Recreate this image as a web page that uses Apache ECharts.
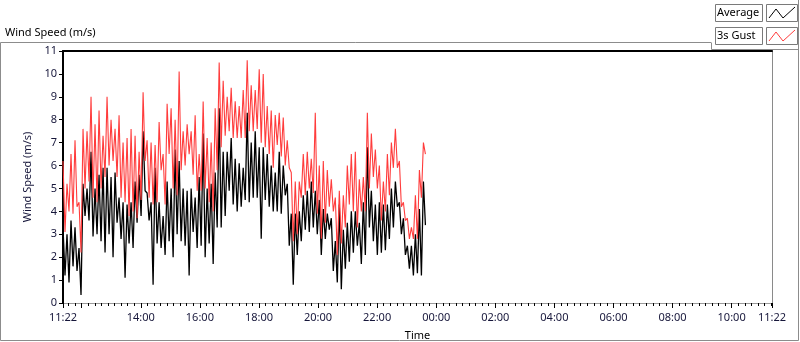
<!DOCTYPE html>
<html>
<head>
<meta charset="utf-8">
<script src="https://cdn.jsdelivr.net/npm/echarts@6/dist/echarts.min.js"></script>
<style>
  html, body { margin: 0; padding: 0; background: #fff; }
  #main { width: 800px; height: 342px; }
</style>
</head>
<body>
<div id="main"></div>
<script>
// samples start at 11:22 (minutes of day), one every 244 s
var startMinute = 682
var stepSeconds = 244

// 3s gust (m/s)
var gustSpeed = [
  6.2,3.1, 5.2,4.0, 6.5,3.9, 7.1,4.2, 4.4,2.2, 7.6,5.0, 7.5,5.3, 9.0,4.6, 7.8,4.4, 8.4,5.0,
  7.3,5.5, 9.0,6.0, 8.0,6.2, 7.6,5.5, 8.2,4.6, 7.0,4.4, 7.2,3.8, 7.6,4.0, 7.3,3.7, 6.6,4.5,
  9.2,6.2, 7.1,4.6, 7.0,4.3, 6.9,4.4, 7.9,5.8, 6.5,4.3, 8.7,6.5, 8.5,5.0, 8.0,4.7, 10.1,5.8,
  7.5,6.0, 7.8,6.5, 7.5,5.6, 8.2,4.9, 6.5,4.9, 8.8,5.0, 7.2,4.4, 7.0,4.0, 8.5,5.8, 10.5,6.8,
  9.7,7.3, 9.0,7.5, 9.4,7.2, 8.8,7.2, 8.6,7.2, 9.3,7.2, 10.6,7.5, 9.5,7.5, 9.3,7.6, 10.2,7.0,
  10.0,6.8, 8.6,6.5, 8.4,5.9, 8.2,6.9, 8.3,6.4, 8.1,6.0, 7.1,5.9, 5.7,2.7, 5.3,3.0, 5.3,4.6,
  6.5,4.7, 6.6,5.0, 6.3,4.8, 8.3,3.9, 6.0,2.8, 6.2,3.5, 5.8,4.2, 5.4,4.0, 4.6,2.1, 4.9,2.6,
  4.7,3.3, 6.0,4.3, 6.5,4.0, 6.6,3.3, 5.4,4.0, 5.5,4.0, 8.3,5.0, 7.4,5.5, 6.7,5.0, 6.0,3.6,
  5.3,4.0, 6.5,4.7, 7.0,5.9, 7.6,5.9, 6.2,4.2, 4.4,3.6, 3.7,2.8, 3.3,2.8, 4.7,2.8, 5.8,4.6,
  7.0,6.5
]

// average (m/s)
var avgSpeed = [
  3.3,1.2, 3.0,0.9, 3.6,1.6, 3.3,1.4, 2.4,0.35, 5.2,3.8, 5.0,3.6, 6.6,2.9, 5.0,3.0, 5.6,2.7,
  5.9,2.2, 5.9,3.0, 5.5,2.0, 5.7,3.5, 4.6,2.8, 4.4,1.1, 4.3,2.6, 4.4,2.4, 5.3,3.5, 5.6,3.8,
  7.5,4.9, 4.8,3.6, 4.4,0.8, 5.9,2.6, 4.4,2.4, 3.8,2.1, 5.3,2.7, 5.0,2.0, 6.7,3.0, 6.2,2.7,
  5.0,2.5, 4.9,1.2, 5.0,3.1, 4.6,2.4, 5.5,2.5, 7.4,2.0, 5.0,2.6, 5.2,1.7, 5.7,3.3, 8.5,3.3,
  6.6,3.8, 6.6,4.9, 7.2,4.3, 6.3,4.0, 6.1,4.2, 5.9,4.5, 8.3,4.4, 7.0,4.6, 7.5,4.6, 6.8,2.8,
  6.8,4.5, 6.5,4.2, 6.0,4.0, 5.7,4.0, 6.6,3.9, 6.0,4.7, 5.2,2.5, 3.9,0.8, 3.9,2.1, 4.0,2.7,
  4.7,3.2, 4.9,3.1, 5.3,3.3, 4.9,3.0, 4.5,2.1, 4.1,2.8, 3.9,3.2, 3.7,1.4, 2.7,0.9, 4.3,0.6,
  3.2,1.5, 3.5,1.8, 4.0,2.2, 4.0,2.5, 3.5,1.7, 4.4,2.1, 6.8,3.3, 4.9,2.7, 4.3,2.1, 4.4,2.2,
  4.3,2.3, 4.3,2.8, 5.0,3.3, 5.3,4.2, 4.4,3.0, 3.7,2.1, 2.5,1.5, 2.5,1.2, 3.0,1.3, 4.1,1.2,
  5.3,3.4
]

// x axis, minutes of day (past 1440 = next day)
var axisMin = 682
var axisMax = 2122
var majorTicks = [682, 720, 840, 960, 1080, 1200, 1320, 1440, 1560, 1680, 1800, 1920, 2040, 2122]
var tickLabels = [682, 840, 960, 1080, 1200, 1320, 1440, 1560, 1680, 1800, 1920, 2040, 2122]
var minorTicks = []
for (var k = -2; 720 + k * 40 / 3 <= axisMax; k++) {
  minorTicks.push(720 + k * 40 / 3)
}

var font = 'Noto Sans'
var txtColor = '#16163a'

function toPoints (arr) {
  var out = []
  for (var i = 0; i < arr.length; i++) {
    out.push([startMinute + i * stepSeconds / 60, arr[i]])
  }
  return out
}

function hhmm (v) {
  var m = Math.round(v) % 1440
  var h = Math.floor(m / 60)
  var mm = m % 60
  return (h < 10 ? '0' : '') + h + ':' + (mm < 10 ? '0' : '') + mm
}

var chart = echarts.init(document.getElementById('main'))
chart.setOption({
  animation: false,
  backgroundColor: '#fff',
  textStyle: { fontFamily: font },
  title: {
    text: 'Wind Speed (m/s)',
    left: 0,
    top: 22,
    textStyle: { fontSize: 11, fontWeight: 'normal', color: '#000', fontFamily: font }
  },
  grid: { left: 63, right: 28, top: 51, bottom: 39, containLabel: false, outerBoundsMode: 'none' },
  xAxis: [
    {
      type: 'value',
      min: axisMin,
      max: axisMax,
      name: 'Time',
      nameLocation: 'middle',
      nameGap: 27,
      nameTextStyle: { fontSize: 11, color: '#000' },
      axisLine: { lineStyle: { color: '#9a9a9a', width: 1 } },
      axisTick: { customValues: majorTicks, length: 5, lineStyle: { color: '#000' } },
      axisLabel: {
        customValues: tickLabels,
        formatter: hhmm,
        fontSize: 11,
        color: txtColor,
        margin: 9
      },
      splitLine: { show: false }
    },
    {
      type: 'value',
      min: axisMin,
      max: axisMax,
      position: 'bottom',
      axisLine: { show: false },
      axisTick: { customValues: minorTicks, length: 3, lineStyle: { color: '#000' } },
      axisLabel: { show: false },
      splitLine: { show: false }
    },
    {
      type: 'value',
      min: axisMin,
      max: axisMax,
      position: 'top',
      axisLine: { lineStyle: { color: '#000', width: 2 } },
      axisTick: { show: false },
      axisLabel: { show: false },
      splitLine: { show: false }
    }
  ],
  yAxis: [
    {
      type: 'value',
      min: 0,
      max: 11,
      interval: 1,
      name: 'Wind Speed (m/s)',
      nameLocation: 'middle',
      nameGap: 21,
      nameTextStyle: { fontSize: 11, color: txtColor },
      axisLine: { show: true, lineStyle: { color: '#000', width: 2 } },
      axisTick: { show: true, length: 4, lineStyle: { color: '#000' } },
      axisLabel: { fontSize: 11, color: txtColor, margin: 6 },
      splitLine: { show: false }
    },
    {
      type: 'value',
      min: 0,
      max: 11,
      position: 'right',
      axisLine: { show: true, lineStyle: { color: '#8a8a8a', width: 1 } },
      axisTick: { show: false },
      axisLabel: { show: false },
      splitLine: { show: false }
    }
  ],
  series: [
    {
      name: 'Average',
      type: 'line',
      data: toPoints(avgSpeed),
      showSymbol: false,
      symbol: 'none',
      lineStyle: { color: '#000', width: 1.3 }
    },
    {
      name: '3s Gust',
      type: 'line',
      data: toPoints(gustSpeed),
      showSymbol: false,
      symbol: 'none',
      lineStyle: { color: '#ff3c3c', width: 1.1 }
    }
  ],
  graphic: [
    // outer frame
    { type: 'polyline', shape: { points: [[711, 42.5], [0.5, 42.5], [0.5, 340.5], [798.5, 340.5], [798.5, 0]] },
      style: { stroke: '#8c8c8c', fill: null, lineWidth: 1 }, silent: true },
    { type: 'polyline', shape: { points: [[711.5, 42.5], [711.5, 49.5], [798.5, 49.5]] },
      style: { stroke: '#8c8c8c', fill: null, lineWidth: 1 }, silent: true },
    // legend
    { type: 'rect', shape: { x: 715.5, y: 4.5, width: 47, height: 17 },
      style: { stroke: '#7a7a7a', fill: '#fff', lineWidth: 1 } },
    { type: 'text', x: 717, y: 13, style: { text: 'Average', font: '11px "Noto Sans"', fill: '#000', textVerticalAlign: 'middle' } },
    { type: 'rect', shape: { x: 766.5, y: 4.5, width: 31, height: 17 },
      style: { stroke: '#7a7a7a', fill: '#fff', lineWidth: 1 } },
    { type: 'polyline', shape: { points: [[769, 18], [776, 9], [783, 18], [795, 7]] },
      style: { stroke: '#000', fill: null, lineWidth: 1 } },
    { type: 'rect', shape: { x: 715.5, y: 27.5, width: 47, height: 17 },
      style: { stroke: '#7a7a7a', fill: '#fff', lineWidth: 1 } },
    { type: 'text', x: 717, y: 36, style: { text: '3s Gust', font: '11px "Noto Sans"', fill: '#000', textVerticalAlign: 'middle' } },
    { type: 'rect', shape: { x: 766.5, y: 27.5, width: 31, height: 17 },
      style: { stroke: '#7a7a7a', fill: '#fff', lineWidth: 1 } },
    { type: 'polyline', shape: { points: [[769, 41], [776, 32], [783, 41], [795, 30]] },
      style: { stroke: '#ff3c3c', fill: null, lineWidth: 1 } }
  ]
})
</script>
</body>
</html>
